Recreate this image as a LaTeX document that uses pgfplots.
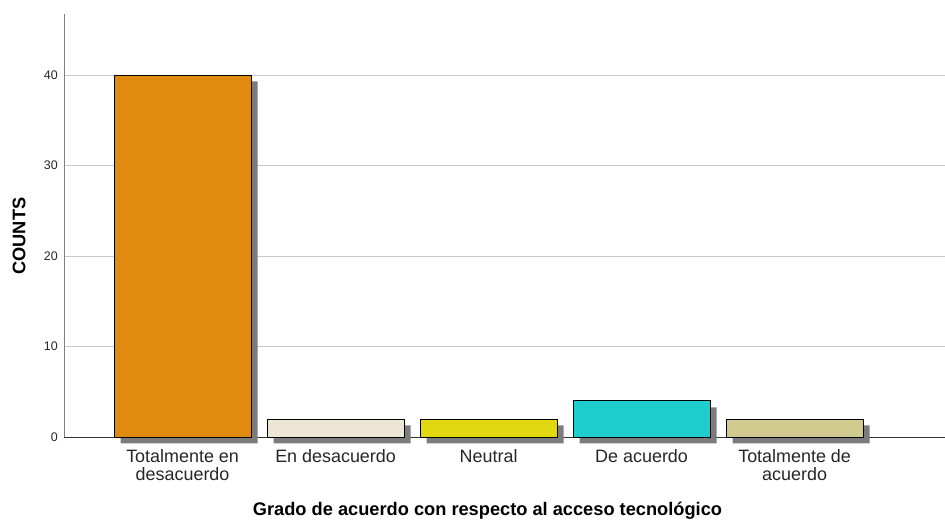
\documentclass[border=0pt]{standalone}
\usepackage{pgfplots}
\pgfplotsset{compat=1.18}
\usepackage{fontspec}
\setmainfont{Liberation Sans}
\definecolor{cOrange}{HTML}{E08A0F}
\definecolor{cCream}{HTML}{EDE6D4}
\definecolor{cYellow}{HTML}{E1D810}
\definecolor{cCyan}{HTML}{1ECECE}
\definecolor{cKhaki}{HTML}{D2CB90}
\definecolor{cShadow}{HTML}{7C7C7C}
\definecolor{cGrid}{HTML}{C8C8C8}
\begin{document}
\begin{tikzpicture}
\begin{axis}[
  at={(0,0)}, anchor=south west,
  scale only axis, width=881bp, height=423bp,
  xmin=-0.775, xmax=4.983,
  ymin=0, ymax=46.74,
  clip=false,
  axis x line*=bottom, axis y line*=left,
  x axis line style={-, draw=black!80, line width=0.8bp},
  y axis line style={-, draw=gray, line width=0.8bp},
  major tick length=0pt,
  xtick={0,1,2,3,4},
  xticklabels={{Totalmente en\\desacuerdo},{En desacuerdo},{Neutral},{De acuerdo},{Totalmente de\\acuerdo}},
  xticklabel style={align=center, font=\fontsize{18}{18}\selectfont, inner sep=0pt, anchor=north, yshift=-12bp, text=black!85},
  ytick={0,10,20,30,40},
  yticklabel style={font=\fontsize{12.5}{14}\selectfont, inner sep=0pt, anchor=east, xshift=-6bp, text=black!85},
  /pgf/number format/assume math mode=true,
  ymajorgrids,
  major grid style={draw=cGrid, line width=0.8bp},
  every axis x label/.style={at={(axis description cs:0.4807,0)}, anchor=center, yshift=-74bp, font=\fontsize{18.3}{20}\selectfont\bfseries},
  every axis y label/.style={at={(axis description cs:-0.0511,0.475)}, anchor=center, rotate=90, font=\fontsize{18.3}{20}\selectfont\bfseries},
  xlabel={Grado de acuerdo con respecto al acceso tecnológico},
  ylabel={COUNTS},
]
% shadows (offset right and down)
\addplot[ybar, bar width=137bp, bar shift=6.5bp, fill=cShadow, draw=none]
  coordinates {(0,39.282) (1,1.282) (2,1.282) (3,3.282) (4,1.282)};
\addplot[ybar, bar width=137bp, bar shift=6.5bp, fill=cShadow, draw=none]
  coordinates {(0,-0.718) (1,-0.718) (2,-0.718) (3,-0.718) (4,-0.718)};
% bars
\addplot[ybar, bar width=137bp, bar shift=0pt, fill=cOrange, draw=black, line width=0.8bp] coordinates {(0,40)};
\addplot[ybar, bar width=137bp, bar shift=0pt, fill=cCream, draw=black, line width=0.8bp] coordinates {(1,2)};
\addplot[ybar, bar width=137bp, bar shift=0pt, fill=cYellow, draw=black, line width=0.8bp] coordinates {(2,2)};
\addplot[ybar, bar width=137bp, bar shift=0pt, fill=cCyan, draw=black, line width=0.8bp] coordinates {(3,4)};
\addplot[ybar, bar width=137bp, bar shift=0pt, fill=cKhaki, draw=black, line width=0.8bp] coordinates {(4,2)};
\end{axis}
\pgfresetboundingbox
\path (-64bp,-84bp) rectangle (881bp,437bp);
\end{tikzpicture}
\end{document}
